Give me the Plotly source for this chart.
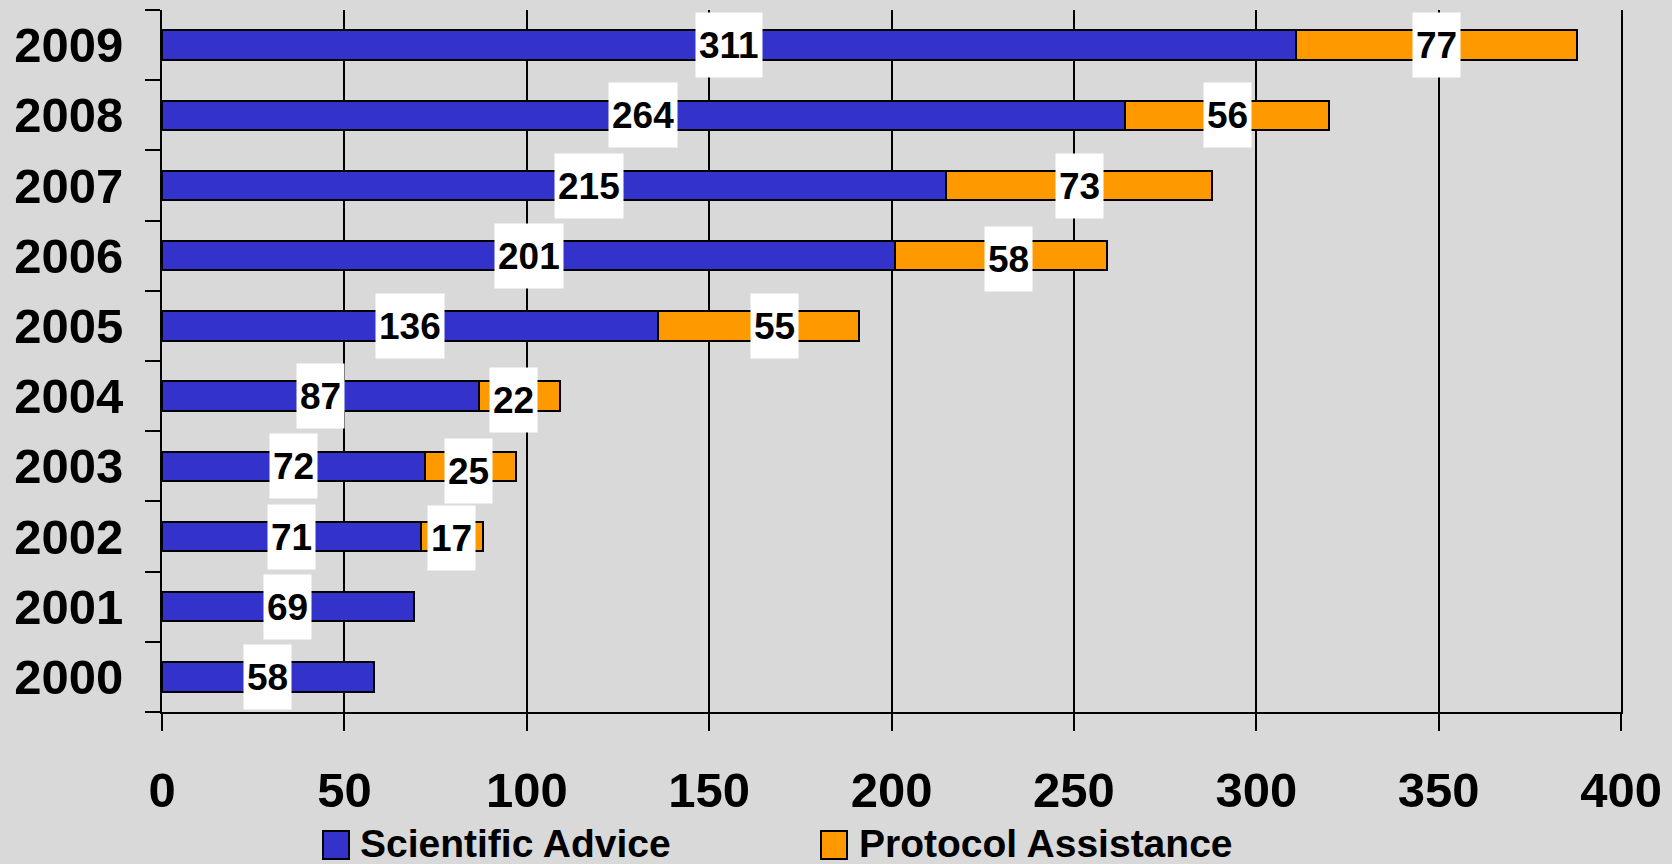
import plotly.graph_objects as go

years = ["2000", "2001", "2002", "2003", "2004", "2005", "2006", "2007", "2008", "2009"]
scientific_advice = [58, 69, 71, 72, 87, 136, 201, 215, 264, 311]
protocol_assistance = [None, None, 17, 25, 22, 55, 58, 73, 56, 77]
x_ticks = [0, 50, 100, 150, 200, 250, 300, 350, 400]
series_names = ["Scientific Advice", "Protocol Assistance"]

# small manual nudges (pixels) of a few value boxes, as placed in the original slide
sa_label_nudge = {"2007": (35, 0)}
pa_label_nudge = {"2006": (8, -3), "2005": (16, 0), "2004": (-6, -4), "2003": (-2, -5), "2002": (0, -1)}

BLUE = "#3333CC"
ORANGE = "#FF9900"
BG = "#D9D9D9"
FONT = "Liberation Sans, Arial, sans-serif"

W, H = 1672, 864
L, R, T, B = 162, 51, 10, 152

fig = go.Figure()
fig.add_trace(go.Bar(y=years, x=scientific_advice, orientation="h", name=series_names[0],
                     marker=dict(color=BLUE, line=dict(color="black", width=2)),
                     width=0.42, showlegend=False))
fig.add_trace(go.Bar(y=years, x=protocol_assistance, orientation="h", name=series_names[1],
                     marker=dict(color=ORANGE, line=dict(color="black", width=2)),
                     width=0.42, showlegend=False))

label_font = dict(family=FONT, size=37, color="black", weight="bold")
ann = []
for i, (yr, a, p) in enumerate(zip(years, scientific_advice, protocol_assistance)):
    dx, dy = sa_label_nudge.get(yr, (0, 0))
    ann.append(dict(x=a / 2, y=i, xref="x", yref="y", text=str(a), showarrow=False,
                    xshift=dx, yshift=dy, font=label_font,
                    bgcolor="white", borderpad=3, height=58))
    if p:
        dx, dy = pa_label_nudge.get(yr, (0, 0))
        ann.append(dict(x=a + p / 2, y=i, xref="x", yref="y", text=str(p), showarrow=False,
                        xshift=dx, yshift=dy, font=label_font,
                        bgcolor="white", borderpad=3, height=58))

pw = W - L - R
ph = H - T - B
def px(xp):
    return (xp - L) / pw
def py(yp):
    return (H - B - yp) / ph

shapes = []
legend_items = [(323, 349, 358, BLUE, series_names[0]), (821, 847, 857, ORANGE, series_names[1])]
for x0, x1, tx, col, name in legend_items:
    shapes.append(dict(type="rect", xref="paper", yref="paper", x0=px(x0), x1=px(x1),
                       y0=py(859), y1=py(831), fillcolor=col, line=dict(color="black", width=2)))
    ann.append(dict(x=px(tx), y=py(843), xref="paper", yref="paper", text=name, showarrow=False,
                    xanchor="left", yanchor="middle", height=40,
                    font=dict(family=FONT, size=39, color="black", weight="bold")))

fig.update_layout(
    width=W, height=H,
    margin=dict(l=L, r=R, t=T, b=B, pad=0),
    paper_bgcolor=BG, plot_bgcolor=BG,
    barmode="stack",
    annotations=ann, shapes=shapes,
    xaxis=dict(range=[0, 400], tickvals=x_ticks, ticktext=[str(v) for v in x_ticks],
               showgrid=True, gridcolor="black", gridwidth=2, zeroline=False,
               showline=True, linecolor="black", linewidth=2,
               ticks="outside", ticklen=17, tickwidth=2, tickcolor="black",
               ticklabelstandoff=17,
               tickfont=dict(family=FONT, size=49, color="black", weight="bold")),
    yaxis=dict(type="category", categoryorder="array", categoryarray=years,
               range=[-0.5, len(years) - 0.5],
               showgrid=False, zeroline=False,
               showline=True, mirror=True, linecolor="black", linewidth=2,
               ticks="outside", ticklen=15, tickwidth=2, tickcolor="black",
               tickson="boundaries", ticklabelstandoff=27,
               tickfont=dict(family=FONT, size=49, color="black", weight="bold")),
)

fig.write_html("out.html")
